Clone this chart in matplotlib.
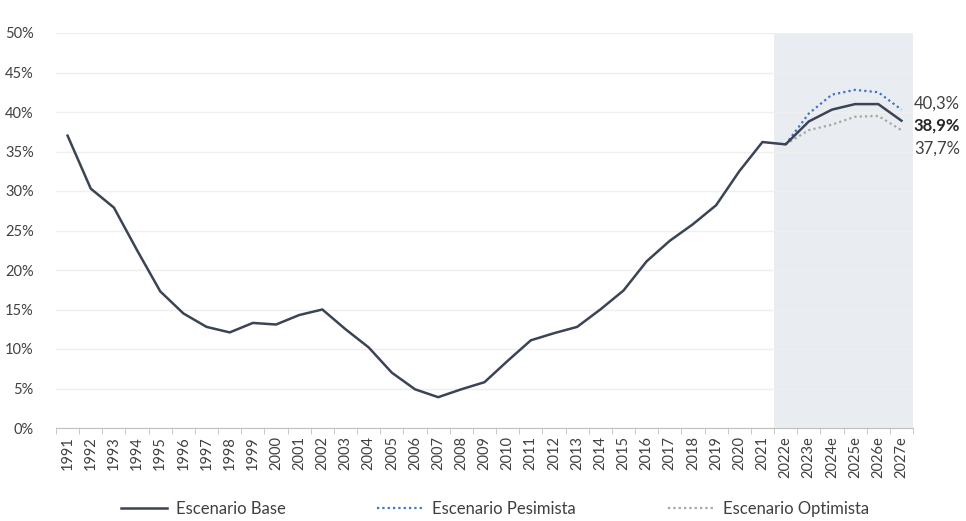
import numpy as np
import matplotlib.pyplot as plt
from matplotlib.ticker import FixedLocator

plt.rcParams['font.family'] = ['Lato', 'DejaVu Sans']

years = [str(y) for y in range(1991, 2022)] + ["2022e", "2023e", "2024e", "2025e", "2026e", "2027e"]

base = [37.0, 30.3, 27.9, 22.5, 17.3, 14.5, 12.8, 12.1, 13.3, 13.1,
        14.3, 15.0, 12.5, 10.2, 7.0, 4.9, 3.9, 4.9, 5.8, 8.5,
        11.1, 12.0, 12.8, 15.0, 17.4, 21.1, 23.7, 25.8, 28.2, 32.5,
        36.2, 35.9, 38.8, 40.3, 41.0, 41.0, 38.9]
pes_years = ["2022e", "2023e", "2024e", "2025e", "2026e", "2027e"]
pesimista = [35.9, 39.8, 42.2, 42.8, 42.5, 40.3]
optimista = [35.9, 37.7, 38.4, 39.4, 39.5, 37.7]

x = np.arange(len(years))
xp = np.array([years.index(y) for y in pes_years])

fig = plt.figure(figsize=(9.66, 5.21), dpi=100)
ax = fig.add_axes([56/966, 1 - 428/521, (913 - 56)/966, (428 - 33)/521])

ax.axvspan(xp[0] - 0.5, len(years) - 0.5, color="#e9ecf1", zorder=0, lw=0)
ax.plot(xp, optimista, color="#a6a6a6", lw=1.6, ls=(0, (1, 1.4)), zorder=2,
        label="Escenario Optimista")
ax.plot(xp, pesimista, color="#4472c4", lw=1.6, ls=(0, (1, 1.4)), zorder=2,
        label="Escenario Pesimista")
ax.plot(x, base, color="#3b4455", lw=1.8, zorder=3, label="Escenario Base")

ax.set_xlim(-0.5, len(years) - 0.5)
ax.set_ylim(0, 50)
ax.set_yticks(range(0, 51, 5))
ax.set_yticklabels([f"{v}%" for v in range(0, 51, 5)], fontsize=10.5, color="#404040")
ax.grid(axis="y", color="#efefef", lw=1)
ax.set_axisbelow(True)

ax.set_xticks(x)
ax.set_xticklabels(years, rotation=90, fontsize=10.5, color="#404040")
ax.tick_params(axis="x", which="major", length=0, pad=6)
ax.xaxis.set_minor_locator(FixedLocator(np.arange(-0.5, len(years), 1)))
ax.tick_params(axis="x", which="minor", length=4, color="#bfbfbf")
ax.tick_params(axis="y", length=0, pad=16)

for s in ["top", "right", "left"]:
    ax.spines[s].set_visible(False)
ax.spines["bottom"].set_color("#bfbfbf")

last = len(years) - 1
ax.annotate("40,3%", xy=(last, pesimista[-1]), xytext=(9, 4), textcoords="offset points",
            fontsize=12, color="#404040", va="center")
ax.annotate("38,9%", xy=(last, base[-1]), xytext=(9, -3.5), textcoords="offset points",
            fontsize=12, color="#262626", va="center", fontweight="bold")
ax.annotate("37,7%", xy=(last, optimista[-1]), xytext=(9, -13), textcoords="offset points",
            fontsize=12, color="#404040", va="center")

h, l = ax.get_legend_handles_labels()
order = [2, 1, 0]
fig.legend([h[i] for i in order], [l[i] for i in order], loc="center",
           bbox_to_anchor=(0.512, 1 - 509/521), ncol=3, frameon=False,
           fontsize=12, columnspacing=5.5, handlelength=2.8, handletextpad=0.5,
           labelcolor="#404040")

fig.savefig("out.png", dpi=100)
